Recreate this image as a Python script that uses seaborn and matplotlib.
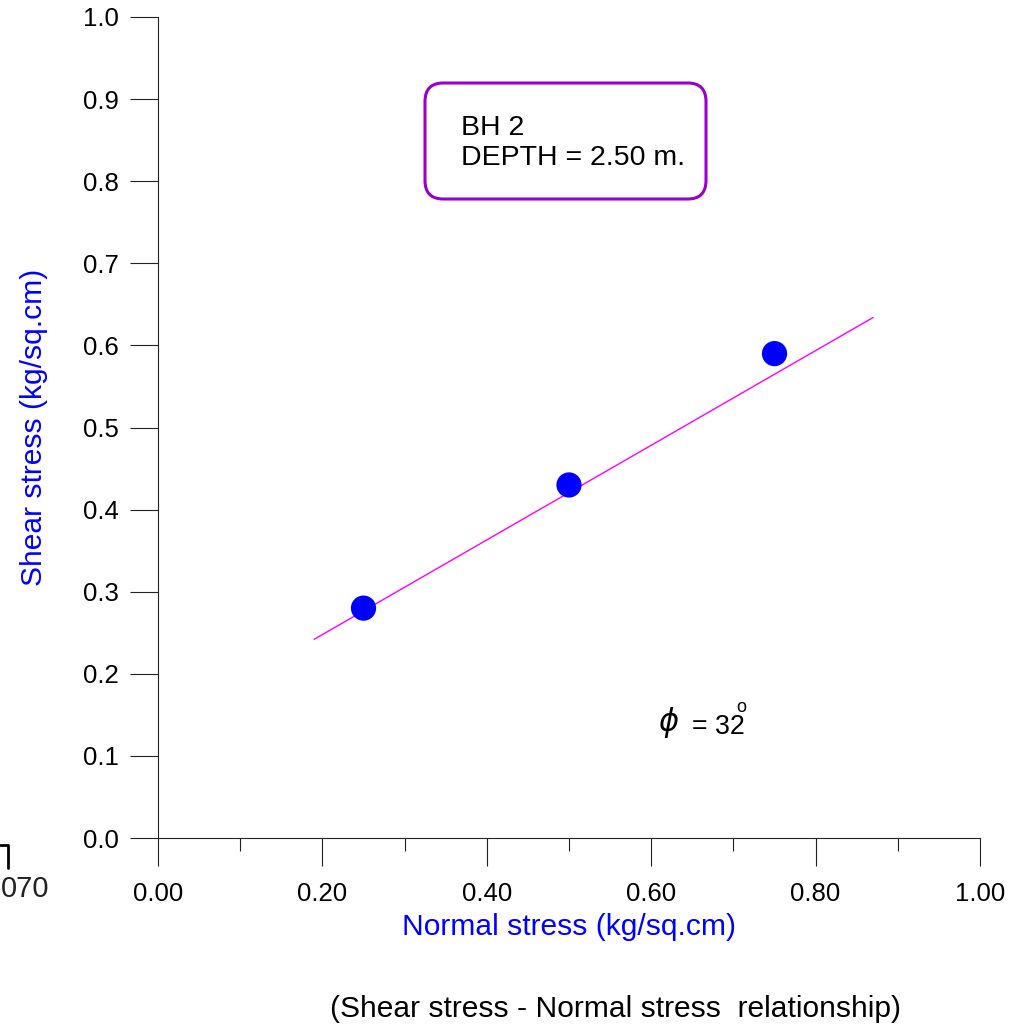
import matplotlib
matplotlib.use("Agg")
import matplotlib.pyplot as plt
import seaborn as sns
import pandas as pd
from matplotlib.patches import FancyBboxPatch
from matplotlib.lines import Line2D

# Direct shear test results
normal_stress = [0.25, 0.50, 0.75]
shear_stress = [0.28, 0.43, 0.59]

# Failure envelope drawn through the results
envelope_x = [0.19, 0.87]
envelope_y = [0.242, 0.634]

x_major = [0.0, 0.2, 0.4, 0.6, 0.8, 1.0]
x_labels = ["0.00", "0.20", "0.40", "0.60", "0.80", "1.00"]
x_minor = [0.1, 0.3, 0.5, 0.7, 0.9]
y_major = [0.0, 0.1, 0.2, 0.3, 0.4, 0.5, 0.6, 0.7, 0.8, 0.9, 1.0]
y_labels = ["0.0", "0.1", "0.2", "0.3", "0.4", "0.5", "0.6", "0.7", "0.8", "0.9", "1.0"]

borehole = "BH 2"
depth_text = "DEPTH = 2.50 m."
phi_deg = 32

sns.set_theme(style="ticks")
plt.rcParams["font.family"] = ["Liberation Sans", "DejaVu Sans"]
plt.rcParams["text.color"] = "black"

W, H = 1014, 1026
fig = plt.figure(figsize=(W / 100, H / 100), dpi=100)
ax = fig.add_axes([158 / W, 1 - 838 / H, (980 - 158) / W, (838 - 17) / H])

df = pd.DataFrame({"normal": normal_stress, "shear": shear_stress})
env = pd.DataFrame({"x": envelope_x, "y": envelope_y})
sns.lineplot(data=env, x="x", y="y", ax=ax, color="#ff00ff", lw=1.0)
sns.scatterplot(data=df, x="normal", y="shear", ax=ax, color="#0000ff",
                s=330, edgecolor="none", zorder=5)

ax.set_xlim(0, 1.0)
ax.set_ylim(0, 1.0)
ax.set_xticks(x_major)
ax.set_xticklabels(x_labels)
ax.set_xticks(x_minor, minor=True)
ax.set_yticks(y_major)
ax.set_yticklabels(y_labels)

for s in ["top", "right"]:
    ax.spines[s].set_visible(False)
for s in ["left", "bottom"]:
    ax.spines[s].set_linewidth(0.8)
    ax.spines[s].set_color("#222222")

ax.tick_params(axis="x", which="major", direction="out", length=20, width=0.8,
               color="#222222", labelcolor="black", labelsize=18.5, pad=12)
ax.tick_params(axis="x", which="minor", direction="out", length=9.5, width=0.8,
               color="#222222")
ax.tick_params(axis="y", which="major", direction="out", length=20.5, width=0.8,
               color="#222222", labelcolor="black", labelsize=18.5, pad=8)

ax.set_xlabel("Normal stress (kg/sq.cm)", color="#0000ff", fontsize=21.6, labelpad=5)
ax.set_ylabel("Shear stress (kg/sq.cm)", color="#0000ff", fontsize=21.6, labelpad=25)

# Sample identification box
box = FancyBboxPatch((425 / W, 1 - 199 / H), (706 - 425) / W, (199 - 83) / H,
                     boxstyle="round,pad=0,rounding_size=0.018",
                     transform=fig.transFigure, facecolor="white",
                     edgecolor="#9900cc", lw=2.2, zorder=1)
fig.patches.append(box)
fig.text(461 / W, 1 - 128 / H, borehole, fontsize=20.5, va="center", ha="left", zorder=5)
fig.text(461 / W, 1 - 158 / H, depth_text, fontsize=20.5, va="center", ha="left", zorder=5)

# Friction angle annotation
fig.text(669 / W, 1 - 722 / H, r"$\phi$", fontsize=22, va="center", ha="center",
         family="DejaVu Serif")
fig.text(692 / W, 1 - 727 / H, f"= {phi_deg}", fontsize=19.3, va="center", ha="left")
fig.text(741 / W, 1 - 708 / H, "o", fontsize=13, va="center", ha="center")

# Caption
fig.text(616 / W, 1 - 1009 / H, "(Shear stress - Normal stress  relationship)",
         fontsize=21.6, va="center", ha="center")

# Fragment of a neighbouring sheet at the left edge
fig.text(0.5 / W, 1 - 889 / H, "070", fontsize=21, va="center", ha="left",
         color="#222222")
fig.add_artist(Line2D([0 / W, 8 / W, 8 / W], [1 - 845 / H, 1 - 845 / H, 1 - 868 / H],
                      transform=fig.transFigure, color="black", lw=2))

fig.savefig("out.png", dpi=100)
